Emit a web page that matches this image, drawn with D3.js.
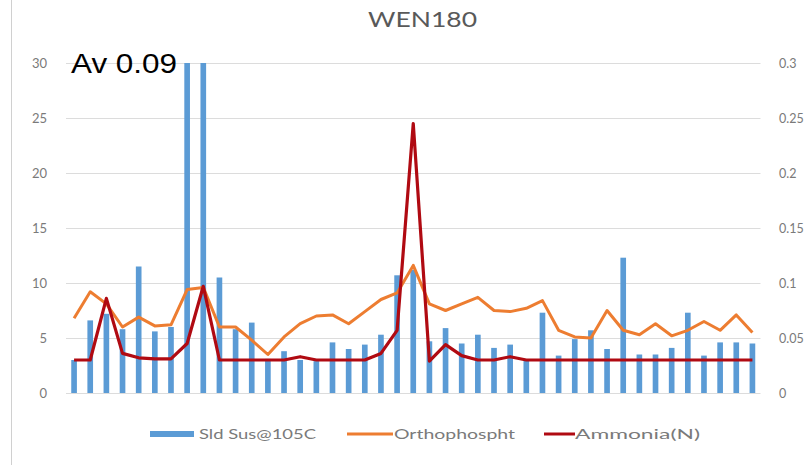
<!DOCTYPE html>
<html>
<head>
<meta charset="utf-8">
<script src="https://cdn.jsdelivr.net/npm/d3@7"></script>
<style>
    html, body { margin: 0; padding: 0; background: #ffffff; }
    svg { display: block; }
</style>
</head>
<body>
<svg width="805" height="465"></svg>
<script>
// Номера проб (подписей по оси X на рисунке нет)
const samples = ["1","2","3","4","5","6","7","8","9","10","11","12","13","14","15",
    "16","17","18","19","20","21","22","23","24","25","26","27","28","29","30",
    "31","32","33","34","35","36","37","38","39","40","41","42","43"];

// Sld Sus@105C, левая ось
const solids = [3.0, 6.6, 7.2, 5.8, 11.5, 5.6, 6.0, 30, 30, 10.5,
    5.8, 6.4, 3.1, 3.8, 3.0, 2.9, 4.6, 4.0, 4.4, 5.3,
    10.7, 11.2, 4.7, 5.9, 4.5, 5.3, 4.1, 4.4, 3.0, 7.3,
    3.4, 4.9, 5.7, 4.0, 12.3, 3.5, 3.5, 4.1, 7.3, 3.4,
    4.6, 4.6, 4.5];

// Orthophospht, правая ось
const ortho = [0.068, 0.092, 0.081, 0.060, 0.069, 0.061, 0.062, 0.094, 0.096, 0.060,
    0.060, 0.048, 0.035, 0.051, 0.063, 0.070, 0.071, 0.063, 0.074, 0.085,
    0.091, 0.116, 0.081, 0.075, 0.081, 0.087, 0.075, 0.074, 0.077, 0.084,
    0.057, 0.051, 0.050, 0.075, 0.057, 0.053, 0.063, 0.052, 0.057, 0.065,
    0.057, 0.071, 0.055];

// Ammonia(N), правая ось
const ammonia = [0.030, 0.030, 0.086, 0.036, 0.032, 0.031, 0.031, 0.045, 0.097, 0.030,
    0.030, 0.030, 0.030, 0.030, 0.033, 0.030, 0.030, 0.030, 0.030, 0.036,
    0.057, 0.245, 0.029, 0.044, 0.034, 0.030, 0.030, 0.033, 0.030, 0.030,
    0.030, 0.030, 0.030, 0.030, 0.030, 0.030, 0.030, 0.030, 0.030, 0.030,
    0.030, 0.030, 0.030];

const leftTicks = [0, 5, 10, 15, 20, 25, 30];
const rightTicks = [0, 0.05, 0.1, 0.15, 0.2, 0.25, 0.3];

const chartTitle = "WEN180";
const note = "Av 0.09";
const seriesNames = ["Sld Sus@105C", "Orthophospht", "Ammonia(N)"];

const colors = { bar: "#5b9bd5", ortho: "#ed7d31", ammonia: "#b00a12", grid: "#dcdcdc", text: "#7a7a7a" };

function drawChart() {
    const svg = d3.select("svg");
    const area = { left: 66, right: 760.5, top: 63, bottom: 393 };

    const scaleX = d3.scaleBand()
        .domain(samples)
        .range([area.left, area.right])
        .padding(0);

    const scaleY = d3.scaleLinear().domain([0, 30]).range([area.bottom, area.top]);
    const scaleY2 = d3.scaleLinear().domain([0, 0.3]).range([area.bottom, area.top]);

    // рамка слева
    svg.append("line")
        .attr("x1", 11.5).attr("x2", 11.5)
        .attr("y1", 0).attr("y2", 465)
        .attr("stroke", "#d0d0d0");

    // сетка
    svg.append("g")
        .selectAll("line")
        .data(leftTicks)
        .enter()
        .append("line")
        .attr("x1", area.left)
        .attr("x2", area.right)
        .attr("y1", d => Math.round(scaleY(d)) + 0.5)
        .attr("y2", d => Math.round(scaleY(d)) + 0.5)
        .attr("stroke", colors.grid);

    const axisLeft = d3.axisLeft(scaleY).tickValues(leftTicks).tickSize(0).tickPadding(0);
    svg.append("g")
        .attr("transform", `translate(47, 0)`)
        .call(axisLeft)
        .call(g => g.select(".domain").remove())
        .selectAll("text")
        .attr("fill", colors.text)
        .style("font-family", "Lato, 'Open Sans', sans-serif")
        .style("font-size", "13px");

    // правая ось: подписи прижаты к краю картинки
    const axisRight = d3.axisRight(scaleY2).tickValues(rightTicks).tickSize(0).tickPadding(0)
        .tickFormat(d3.format("~g"));
    svg.append("g")
        .attr("transform", `translate(779, 0)`)
        .call(axisRight)
        .call(g => g.select(".domain").remove())
        .selectAll("text")
        .attr("fill", colors.text)
        .style("font-family", "Lato, 'Open Sans', sans-serif")
        .style("font-size", "12.5px");

    // столбцы
    const barWidth = scaleX.bandwidth() * 0.35;
    svg.append("g")
        .selectAll("rect")
        .data(solids)
        .enter()
        .append("rect")
        .attr("x", (d, i) => scaleX(samples[i]) + scaleX.bandwidth() / 2 - barWidth / 2)
        .attr("y", d => scaleY(d))
        .attr("width", barWidth)
        .attr("height", d => area.bottom - scaleY(d))
        .style("fill", colors.bar);

    const line = d3.line()
        .x((d, i) => scaleX(samples[i]) + scaleX.bandwidth() / 2)
        .y(d => scaleY2(d));

    svg.append("path")
        .datum(ortho)
        .attr("fill", "none")
        .attr("stroke", colors.ortho)
        .attr("stroke-width", 3)
        .attr("stroke-linejoin", "round")
        .attr("d", line);

    svg.append("path")
        .datum(ammonia)
        .attr("fill", "none")
        .attr("stroke", colors.ammonia)
        .attr("stroke-width", 3.2)
        .attr("stroke-linejoin", "round")
        .attr("d", line);

    // заголовок
    svg.append("text")
        .attr("x", 368)
        .attr("y", 27)
        .attr("textLength", 109)
        .attr("lengthAdjust", "spacingAndGlyphs")
        .attr("fill", "#595959")
        .style("font-family", "Lato, 'Open Sans', sans-serif")
        .style("font-size", "21px")
        .text(chartTitle);

    svg.append("text")
        .attr("x", 71)
        .attr("y", 73)
        .attr("textLength", 106)
        .attr("lengthAdjust", "spacingAndGlyphs")
        .attr("fill", "#000000")
        .style("font-family", "'Liberation Sans', Arial, sans-serif")
        .style("font-size", "28px")
        .text(note);

    createLegend(svg);
}

function createLegend(svg) {
    const legendY = 434;
    const items = [
        { text: seriesNames[0], type: "bar", color: colors.bar, x0: 150, x1: 194, tx: 199, tw: 117 },
        { text: seriesNames[1], type: "line", color: colors.ortho, x0: 347, x1: 393, tx: 394, tw: 121 },
        { text: seriesNames[2], type: "line", color: colors.ammonia, x0: 544, x1: 575, tx: 575, tw: 125 }
    ];

    const legend = svg.append("g").attr("class", "legend");

    legend.selectAll("rect")
        .data(items.filter(d => d.type === "bar"))
        .enter()
        .append("rect")
        .attr("x", d => d.x0)
        .attr("y", legendY - 3)
        .attr("width", d => d.x1 - d.x0)
        .attr("height", 6)
        .style("fill", d => d.color);

    legend.selectAll("line")
        .data(items.filter(d => d.type === "line"))
        .enter()
        .append("line")
        .attr("x1", d => d.x0)
        .attr("x2", d => d.x1)
        .attr("y1", legendY)
        .attr("y2", legendY)
        .attr("stroke", d => d.color)
        .attr("stroke-width", 3);

    legend.selectAll("text")
        .data(items)
        .enter()
        .append("text")
        .attr("x", d => d.tx)
        .attr("y", legendY + 5)
        .attr("textLength", d => d.tw)
        .attr("lengthAdjust", "spacingAndGlyphs")
        .attr("fill", colors.text)
        .style("font-family", "Lato, 'Open Sans', sans-serif")
        .style("font-size", "14px")
        .text(d => d.text);
}

drawChart();
</script>
</body>
</html>
